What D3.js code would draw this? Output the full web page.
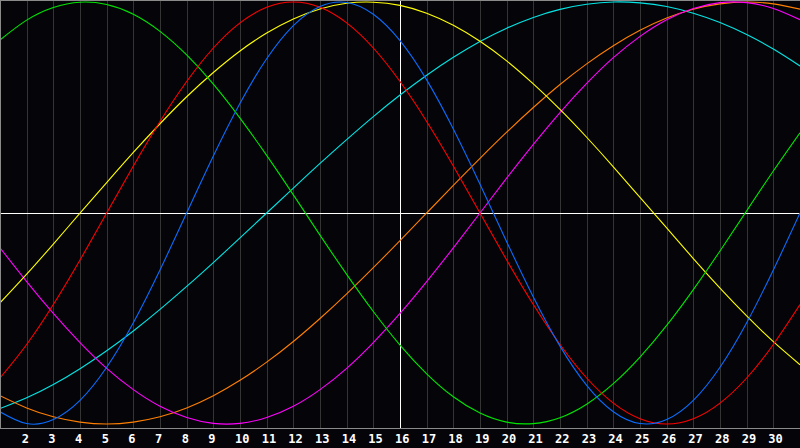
<!DOCTYPE html>
<html>
<head>
<meta charset="utf-8">
<script src="https://cdn.jsdelivr.net/npm/d3@7"></script>
<style>
    html, body {margin: 0; padding: 0; background: #050509;}
    svg {display: block;}
    .grid line {stroke: #343434; stroke-width: 1; shape-rendering: crispEdges;}
    .grid line.mid {stroke: #ffffff;}
    .frame line {stroke: #8a8a8a; stroke-width: 1; shape-rendering: crispEdges;}
    .axis--x text {fill: #ffffff; font-family: "DejaVu Sans Mono", monospace; font-weight: bold; font-size: 12px;}
    .line {fill: none; stroke-width: 1.1;}
</style>
</head>
<body>
<svg id="chart" width="800" height="448"></svg>
<script>
// days of the month shown on the x axis
var days = d3.range(1, 32);
var dayLabels = ["2", "3", "4", "5", "6", "7", "8", "9", "10", "11", "12", "13", "14", "15", "16",
    "17", "18", "19", "20", "21", "22", "23", "24", "25", "26", "27", "28", "29", "30"];

// one value per day (1..31), -1 .. 1
var blue = [-0.942, -0.998, -0.979, -0.888, -0.731, -0.520, -0.270, 0.000, 0.270, 0.520,
    0.731, 0.888, 0.979, 0.998, 0.942, 0.817, 0.631, 0.398, 0.136, -0.136,
    -0.398, -0.631, -0.817, -0.942, -0.998, -0.979, -0.888, -0.731, -0.520, -0.270, 0.000];

var red = [-0.782, -0.623, -0.434, -0.223, 0.000, 0.223, 0.434, 0.623, 0.782, 0.901,
    0.975, 1.000, 0.975, 0.901, 0.782, 0.623, 0.434, 0.223, 0.000, -0.223,
    -0.434, -0.623, -0.782, -0.901, -0.975, -1.000, -0.975, -0.901, -0.782, -0.623, -0.434];

var green = [0.820, 0.914, 0.974, 0.999, 0.988, 0.942, 0.861, 0.749, 0.611, 0.450,
    0.273, 0.086, -0.105, -0.291, -0.467, -0.626, -0.762, -0.871, -0.948, -0.991,
    -0.998, -0.970, -0.906, -0.809, -0.683, -0.533, -0.363, -0.180, 0.010, 0.199, 0.380];

var magenta = [-0.165, -0.325, -0.476, -0.614, -0.736, -0.837, -0.916, -0.969, -0.997, -0.997,
    -0.969, -0.916, -0.837, -0.736, -0.614, -0.476, -0.325, -0.165, 0.000, 0.165,
    0.325, 0.476, 0.614, 0.736, 0.837, 0.916, 0.969, 0.997, 0.997, 0.969, 0.916];

var yellow = [-0.426, -0.290, -0.147, -0.001, 0.144, 0.287, 0.423, 0.551, 0.666, 0.768,
    0.853, 0.920, 0.967, 0.994, 0.999, 0.984, 0.947, 0.890, 0.814, 0.721,
    0.612, 0.491, 0.359, 0.219, 0.074, -0.071, -0.216, -0.356, -0.488, -0.610, -0.719];

var orange = [-0.866, -0.924, -0.966, -0.991, -1.000, -0.991, -0.966, -0.924, -0.866, -0.793,
    -0.707, -0.609, -0.500, -0.383, -0.259, -0.131, 0.000, 0.131, 0.259, 0.383,
    0.500, 0.609, 0.707, 0.793, 0.866, 0.924, 0.966, 0.991, 1.000, 0.991, 0.966];

var cyan = [-0.927, -0.876, -0.813, -0.738, -0.653, -0.559, -0.457, -0.348, -0.235, -0.118,
    0.000, 0.118, 0.235, 0.348, 0.457, 0.559, 0.653, 0.738, 0.813, 0.876,
    0.927, 0.965, 0.989, 1.000, 0.996, 0.979, 0.947, 0.903, 0.846, 0.777, 0.697];

var series = [
    {key: "cyan", color: "#00e6e6", values: cyan},
    {key: "orange", color: "#ff7f00", values: orange},
    {key: "magenta", color: "#ff00ff", values: magenta},
    {key: "yellow", color: "#ffff00", values: yellow},
    {key: "green", color: "#00e600", values: green},
    {key: "red", color: "#ff0000", values: red},
    {key: "blue", color: "#0a6cff", values: blue}
];

var svg = d3.select("#chart")
    , width = 800
    , height = 428
    ;

svg.append("rect")
    .attr("width", 800)
    .attr("height", 448)
    .attr("fill", "#050509");

var x = d3.scaleLinear()
    .domain([1, 31])
    .range([0, width]);

var y = d3.scaleLinear()
    .domain([-1, 1])
    .range([424, 2]);

// day grid
var grid = svg.append("g").attr("class", "grid");

grid.selectAll("line.day")
    .data(dayLabels)
    .enter()
    .append("line")
    .attr("class", function(d) {return d === "16" ? "day mid" : "day"})
    .attr("x1", function(d) {return Math.round(x(+d)) + 0.5})
    .attr("x2", function(d) {return Math.round(x(+d)) + 0.5})
    .attr("y1", 0)
    .attr("y2", height);

grid.append("line")
    .attr("class", "mid")
    .attr("x1", 0)
    .attr("x2", width)
    .attr("y1", Math.round(y(0)) + 0.5)
    .attr("y2", Math.round(y(0)) + 0.5);

// curves
var line = d3.line()
    .x(function(d, i) {return x(days[i])})
    .y(function(d) {return y(d)})
    .curve(d3.curveNatural);

svg.append("g")
    .attr("class", "line-pane")
    .selectAll("path.line")
    .data(series, function(d) {return d.key})
    .enter()
    .append("path")
    .attr("class", "line")
    .attr("stroke", function(d) {return d.color})
    .attr("d", function(d) {return line(d.values)});

// frame
var frame = svg.append("g").attr("class", "frame");
frame.append("line").attr("x1", 0).attr("x2", width).attr("y1", 0.5).attr("y2", 0.5);
frame.append("line").attr("x1", 0.5).attr("x2", 0.5).attr("y1", 0).attr("y2", height);
frame.append("line").attr("x1", 0).attr("x2", width).attr("y1", height + 0.5).attr("y2", height + 0.5);

// day labels
var xAxis = d3.axisBottom(x)
    .tickValues(dayLabels.map(Number))
    .tickFormat(d3.format("d"))
    .tickSize(0)
    .tickPadding(0);

var axisG = svg.append("g")
    .attr("class", "axis axis--x")
    .attr("transform", "translate(0," + height + ")")
    .call(xAxis);

axisG.select(".domain").remove();
axisG.selectAll("text")
    .attr("text-anchor", "start")
    .attr("dx", -5.5)
    .attr("dy", null)
    .attr("y", 15);
</script>
</body>
</html>
